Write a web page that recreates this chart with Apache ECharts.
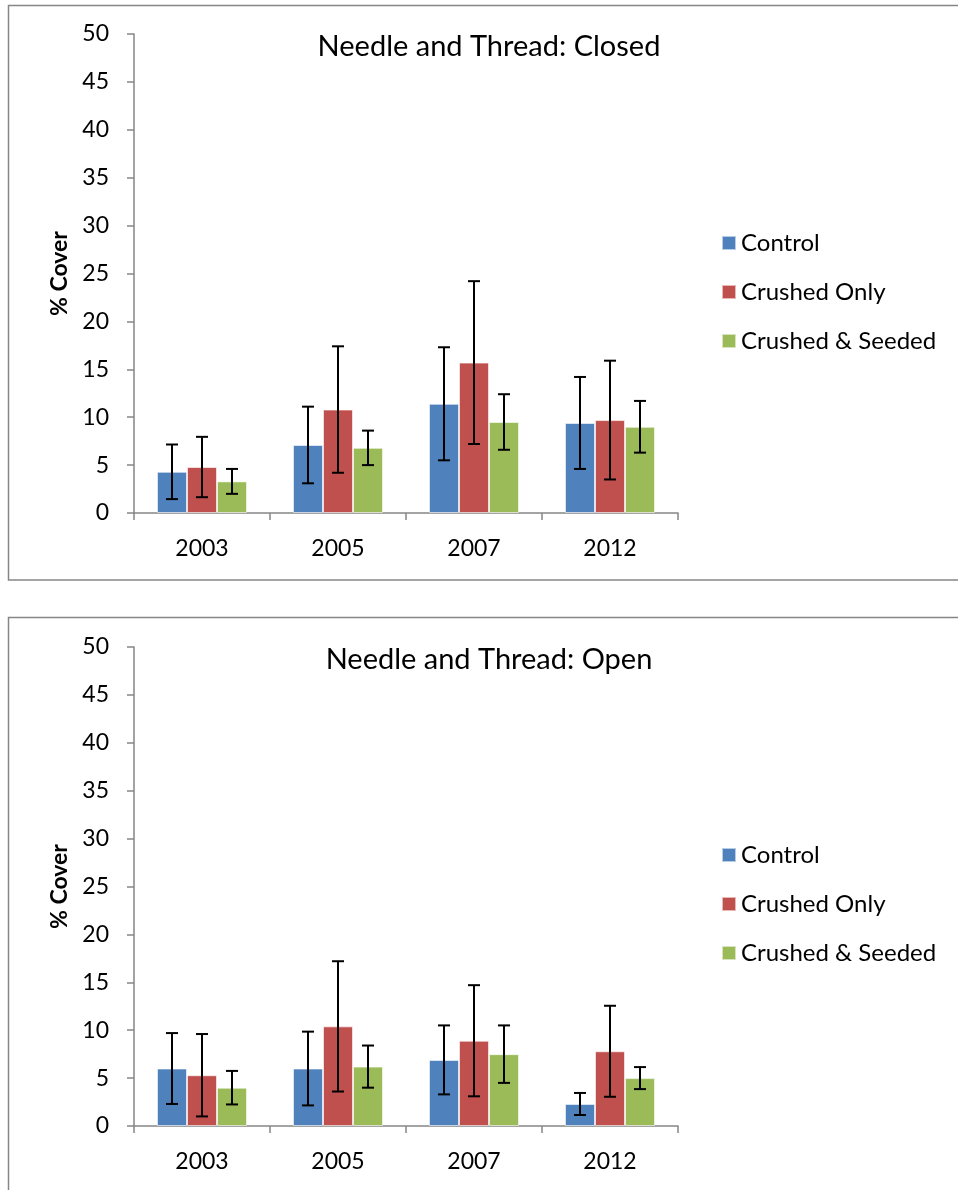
<!DOCTYPE html>
<html>
<head>
<meta charset="utf-8">
<script src="https://cdn.jsdelivr.net/npm/echarts@6/dist/echarts.min.js"></script>
<style>
  html, body { margin: 0; padding: 0; background: #fff; }
  #chart { width: 958px; height: 1190px; }
</style>
</head>
<body>
<div id="chart"></div>
<script>
// Categories and series
const years = ['2003', '2005', '2007', '2012'];
const seriesNames = ['Control', 'Crushed Only', 'Crushed & Seeded'];
const yTicks = [0, 5, 10, 15, 20, 25, 30, 35, 40, 45, 50];

// Needle and Thread: Closed — mean % cover and error (±)
const closedControl = [4.3, 7.1, 11.4, 9.4];
const closedControlErr = [2.85, 4.0, 5.9, 4.8];
const closedCrushed = [4.8, 10.8, 15.7, 9.7];
const closedCrushedErr = [3.15, 6.6, 8.5, 6.2];
const closedSeeded = [3.3, 6.8, 9.5, 9.0];
const closedSeededErr = [1.3, 1.8, 2.9, 2.7];

// Needle and Thread: Open — mean % cover and error (±)
const openControl = [6.0, 6.0, 6.9, 2.3];
const openControlErr = [3.7, 3.85, 3.6, 1.15];
const openCrushed = [5.3, 10.4, 8.9, 7.8];
const openCrushedErr = [4.3, 6.8, 5.8, 4.75];
const openSeeded = [4.0, 6.2, 7.5, 5.0];
const openSeededErr = [1.75, 2.2, 3.0, 1.15];

const colors = ['#4F81BD', '#C0504D', '#9BBB59'];
const axisGray = '#868686';
const FONT = 'Lato, "Open Sans", sans-serif';
const barGapPct = 33.8; // barCategoryGap in percent

const panels = [
  { title: 'Needle and Thread: Closed', means: [closedControl, closedCrushed, closedSeeded],
    errs: [closedControlErr, closedCrushedErr, closedSeededErr], top: 34, titleTop: 27, legendTop: 226, box: [8.5, 5.5, 980, 574.5] },
  { title: 'Needle and Thread: Open', means: [openControl, openCrushed, openSeeded],
    errs: [openControlErr, openCrushedErr, openSeededErr], top: 647, titleTop: 640, legendTop: 838, box: [8.5, 617.5, 980, 600] }
];

const grid = [], xAxis = [], yAxis = [], series = [], title = [], legend = [], graphic = [];

panels.forEach((p, pi) => {
  grid.push({ left: 134, top: p.top, width: 544, height: 479, containLabel: false });
  title.push({ text: p.title, left: 484, top: p.titleTop, textAlign: 'center',
    textStyle: { fontFamily: FONT, fontSize: 29, fontWeight: 'normal', color: '#000' } });
  legend.push({ orient: 'vertical', left: 716, top: p.legendTop, itemWidth: 14, itemHeight: 14,
    itemGap: 25, icon: 'rect', selectedMode: false, data: seriesNames,
    textStyle: { fontFamily: FONT, fontSize: 24, color: '#000' } });
  xAxis.push({ type: 'category', gridIndex: pi, data: years,
    axisLine: { lineStyle: { color: axisGray, width: 1.5 } },
    axisTick: { show: true, alignWithLabel: false, length: 7, lineStyle: { color: axisGray, width: 1.5 } },
    axisLabel: { fontFamily: FONT, fontSize: 23, color: '#000', margin: 24 } });
  yAxis.push({ type: 'value', gridIndex: pi, min: 0, max: 50, interval: 5,
    name: '% Cover', nameLocation: 'middle', nameRotate: 90, nameGap: 62,
    nameTextStyle: { fontFamily: FONT, fontSize: 23, fontWeight: 'bold', color: '#000' },
    axisLine: { show: true, lineStyle: { color: axisGray, width: 1.5 } },
    axisTick: { show: true, length: 7, lineStyle: { color: axisGray, width: 1.5 } },
    splitLine: { show: false },
    axisLabel: { fontFamily: FONT, fontSize: 23, color: '#000', margin: 25,
      formatter: v => (yTicks.includes(v) ? String(v) : '') } });

  seriesNames.forEach((name, si) => {
    series.push({ type: 'bar', name, xAxisIndex: pi, yAxisIndex: pi, data: p.means[si],
      barGap: '0%', barCategoryGap: barGapPct + '%',
      itemStyle: { color: colors[si], borderColor: 'rgba(255,255,255,0.6)', borderWidth: 1 } });
  });

  // Error bars drawn over the bars of each series
  seriesNames.forEach((name, si) => {
    const data = years.map((y, ci) => [ci, p.means[si][ci], p.errs[si][ci]]);
    series.push({ type: 'custom', name: name + ' error', xAxisIndex: pi, yAxisIndex: pi,
      data, z: 10, silent: true,
      renderItem: (params, api) => {
        const ci = api.value(0), m = api.value(1), e = api.value(2);
        const band = api.size([1, 0])[0];
        const barW = band * (1 - barGapPct / 100) / 3;
        const c = api.coord([ci, m]);
        const x = c[0] + (si - 1) * barW;
        const yHi = api.coord([ci, m + e])[1];
        const yLo = api.coord([ci, m - e])[1];
        const cap = 6;
        const st = { stroke: '#000', lineWidth: 2 };
        return { type: 'group', children: [
          { type: 'line', shape: { x1: x, y1: yHi, x2: x, y2: yLo }, style: st },
          { type: 'line', shape: { x1: x - cap, y1: yHi, x2: x + cap, y2: yHi }, style: st },
          { type: 'line', shape: { x1: x - cap, y1: yLo, x2: x + cap, y2: yLo }, style: st }
        ] };
      } });
  });

  graphic.push({ type: 'rect', shape: { x: p.box[0], y: p.box[1], width: p.box[2], height: p.box[3] },
    style: { fill: 'none', stroke: axisGray, lineWidth: 1.5 }, z: -1 });
});

const chart = echarts.init(document.getElementById('chart'), null, { renderer: 'canvas' });
chart.setOption({
  animation: false,
  backgroundColor: '#fff',
  color: colors,
  title, legend, grid, xAxis, yAxis, series, graphic
});
</script>
</body>
</html>
